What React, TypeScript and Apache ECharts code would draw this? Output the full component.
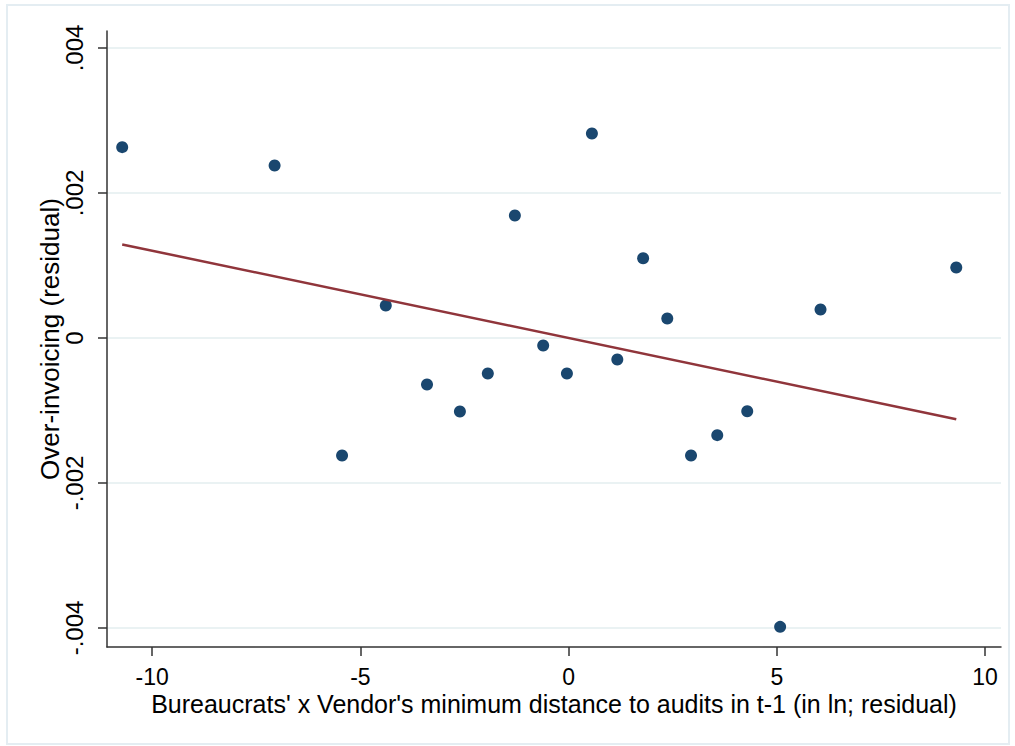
import React, { useEffect, useRef } from "react";
import * as echarts from "echarts";

const pointsX = [-10.72, -7.06, -5.44, -4.39, -3.40, -2.61, -1.94, -1.29, -0.61, -0.04, 0.56, 1.17, 1.79, 2.37, 2.94, 3.57, 4.29, 5.08, 6.05, 9.31];
const pointsY = [0.002632, 0.002379, -0.001621, 0.000448, -0.000641, -0.001014, -0.00049, 0.00169, -0.000103, -0.00049, 0.00282, -0.000297, 0.0011, 0.000269, -0.00162, -0.00134, -0.00101, -0.003984, 0.000393, 0.000972];
const fitX = [-10.72, 9.31];
const fitY = [0.00129, -0.00112];
const xTicks = [-10, -5, 0, 5, 10];
const yTicks = [-0.004, -0.002, 0, 0.002, 0.004];

const xTitle = "Bureaucrats' x Vendor's minimum distance to audits in t-1 (in ln; residual)";
const yTitle = "Over-invoicing (residual)";

const fmtY = (v: number) => {
  if (Math.abs(v) < 1e-12) return "0";
  return (v < 0 ? "-" : "") + Math.abs(v).toFixed(3).replace(/^0/, "");
};

export default function App() {
  const ref = useRef<HTMLDivElement>(null);
  useEffect(() => {
    document.body.style.margin = "0";
    document.body.style.overflow = "hidden";
    const chart = echarts.init(ref.current!, undefined, { renderer: "svg" });
    const font = "Liberation Sans, Arial, sans-serif";
    chart.setOption({
      animation: false,
      backgroundColor: "#ffffff",
      textStyle: { fontFamily: font, color: "#000" },
      graphic: [
        {
          type: "rect",
          shape: { x: 7, y: 5, width: 1002, height: 739 },
          style: { fill: "none", stroke: "#e4edf2", lineWidth: 2 },
          z: -10,
        },
      ],
      grid: { left: 107, right: 14, top: 31, bottom: 99 },
      xAxis: {
        type: "value",
        min: -11.085,
        max: 10.384,
        name: xTitle,
        nameLocation: "middle",
        nameGap: 44,
        nameMoveOverlap: false,
        nameTextStyle: { fontSize: 25, lineHeight: 25, color: "#000", fontFamily: font },
        axisLine: { onZero: false, lineStyle: { color: "#333", width: 1.5 } },
        axisTick: { show: true, length: 9, customValues: xTicks, lineStyle: { color: "#333", width: 1.5 } },
        axisLabel: { customValues: xTicks, fontSize: 23, lineHeight: 23, color: "#000", margin: 18, fontFamily: font },
        splitLine: { show: false },
      },
      yAxis: {
        type: "value",
        min: -0.004262,
        max: 0.004234,
        name: yTitle,
        nameLocation: "middle",
        nameGap: 44,
        nameMoveOverlap: false,
        nameTextStyle: { fontSize: 26, lineHeight: 26, color: "#000", fontFamily: font },
        axisLine: { onZero: false, lineStyle: { color: "#333", width: 1.5 } },
        axisTick: { show: true, length: 9, customValues: yTicks, lineStyle: { color: "#333", width: 1.5 } },
        axisLabel: { customValues: yTicks, fontSize: 24, lineHeight: 22, color: "#000", margin: 22, rotate: 90, formatter: fmtY, fontFamily: font },
        splitLine: { show: true, lineStyle: { color: "#eaf2f3", width: 2 } },
      },
      series: [
        {
          type: "scatter",
          data: pointsX.map((x, i) => [x, pointsY[i]]),
          symbol: "circle",
          symbolSize: 12,
          itemStyle: { color: "#1a476f", opacity: 1 },
        },
        {
          type: "line",
          data: fitX.map((x, i) => [x, fitY[i]]),
          showSymbol: false,
          lineStyle: { color: "#90353b", width: 2.5 },
        },
      ],
    });
    return () => chart.dispose();
  }, []);
  return <div ref={ref} style={{ width: 1015, height: 746 }} />;
}
